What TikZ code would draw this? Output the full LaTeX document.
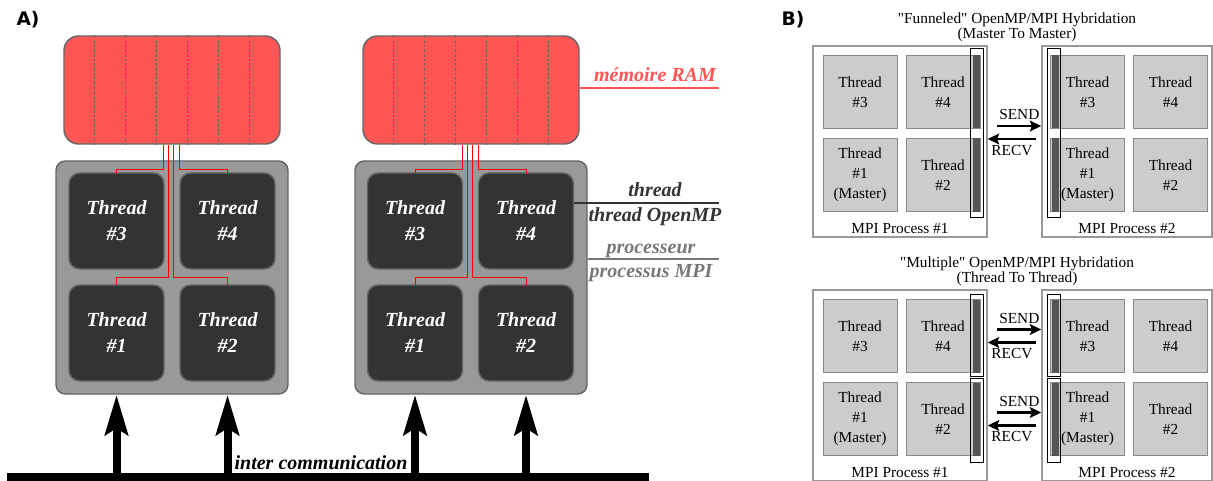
\documentclass[tikz,border=0pt]{standalone}
\usepackage{fontspec}
\setmainfont{Liberation Serif}
\newfontfamily\labelfont{DejaVu Sans}
\newfontfamily\plainserif[Ligatures=TeXOff]{Liberation Serif}
\usetikzlibrary{positioning,calc,arrows.meta}

\definecolor{ramred}{HTML}{FF5555}
\definecolor{cpugray}{HTML}{999999}
\definecolor{coredark}{HTML}{333333}
\definecolor{edgegray}{HTML}{666666}
\definecolor{tagdark}{HTML}{333333}
\definecolor{taggray}{HTML}{777777}
\definecolor{boxgray}{HTML}{CCCCCC}
\definecolor{workedge}{HTML}{888888}
\definecolor{bargray}{HTML}{555555}

\tikzstyle{panel} = [font=\labelfont\bfseries\fontsize{14}{16}\selectfont]
\tikzstyle{ram} = [draw=edgegray,
                   line width=1.1pt,
                   fill=ramred,
                   rounded corners=11pt,
                   minimum width=162pt,
                   minimum height=81pt]
\tikzstyle{divider} = [draw=edgegray, line width=0.6pt, dash pattern=on 2pt off 1.5pt]
\tikzstyle{cpu} = [draw=edgegray,
                   line width=1.1pt,
                   fill=cpugray,
                   rounded corners=7pt,
                   minimum width=174pt,
                   minimum height=174.75pt]
\tikzstyle{core} = [draw=edgegray,
                    line width=1.1pt,
                    fill=coredark,
                    rounded corners=8pt,
                    minimum width=71.25pt,
                    minimum height=72pt,
                    outer sep=0pt,
                    text=white,
                    align=center,
                    font=\bfseries\itshape\fontsize{15}{19.5}\selectfont]
\tikzstyle{wire} = [draw=red, line width=0.75pt]
\tikzstyle{tag} = [font=\bfseries\itshape\fontsize{15}{18}\selectfont, anchor=base, inner sep=0pt]
\tikzstyle{tagline} = [line width=1pt]
\tikzstyle{bus} = [fill=black, minimum width=481.5pt, minimum height=6.75pt, inner sep=0pt]
\tikzstyle{bigarrow} = [line width=6pt, -{Stealth[length=30pt, width=17pt, inset=5pt]}]

\tikzstyle{mpi} = [draw=cpugray, line width=1.1pt, minimum width=130.5pt, minimum height=143.25pt, inner sep=0pt]
\tikzstyle{worker} = [draw=workedge,
                      line width=0.6pt,
                      fill=boxgray,
                      minimum width=55.5pt,
                      minimum height=54.75pt,
                      inner sep=0pt,
                      outer sep=0pt,
                      align=center,
                      font=\plainserif\fontsize{11.5}{14.8}\selectfont]
\tikzstyle{slot} = [fill=bargray, minimum width=5.25pt, minimum height=54.75pt, inner sep=0pt]
\tikzstyle{slotbox} = [draw=black, line width=0.6pt, minimum width=9.75pt, inner sep=0pt]
\tikzstyle{msg} = [line width=2.2pt, -{Stealth[length=8.5pt, width=8pt, inset=1.5pt]}]
\tikzstyle{caption} = [font=\plainserif\fontsize{11.5}{11.25}\selectfont, align=center]
\tikzstyle{msgtext} = [font=\plainserif\fontsize{11.5}{14}\selectfont]

\begin{document}
\begin{tikzpicture}[x=0.75pt, y=-0.75pt]
    \useasboundingbox (0,0) rectangle (1213,481);

    %%%%%%%%%%%
    % PANEL A %
    %%%%%%%%%%%
    \node[panel] (labelA) at (28,20) {A)};

    \node[ram] (ramA) at (172,90) {};
    \node[ram] (ramB) at (471,90) {};
    \foreach \k in {1,...,6} {
        \draw[divider] ($(ramA.north west)!\k/7!(ramA.north east)$) -- ($(ramA.south west)!\k/7!(ramA.south east)$);
        \draw[divider] ($(ramB.north west)!\k/7!(ramB.north east)$) -- ($(ramB.south west)!\k/7!(ramB.south east)$);
    }

    \node[cpu] (cpuA) at (172,277.5) {};
    \node[cpu] (cpuB) at (471,277.5) {};

    \node[core] (t3A) at (116.5,221) {Thread\\\#3};
    \node[core, right=12pt of t3A] (t4A) {Thread\\\#4};
    \node[core, below=12pt of t3A] (t1A) {Thread\\\#1};
    \node[core, right=12pt of t1A] (t2A) {Thread\\\#2};

    \node[core] (t3B) at (415,221) {Thread\\\#3};
    \node[core, right=12pt of t3B] (t4B) {Thread\\\#4};
    \node[core, below=12pt of t3B] (t1B) {Thread\\\#1};
    \node[core, right=12pt of t1B] (t2B) {Thread\\\#2};

    % memory wires
    \foreach \dx/\dy/\tgt in {-8.5/25/t3A, 7.5/25/t4A, -3.5/133/t1A, 1.5/133/t2A}
        \draw[wire] ($(ramA.south)+(\dx,0)$) -- ++(0,\dy) -| (\tgt.north);
    \foreach \dx/\dy/\tgt in {-8.5/25/t3B, 7.5/25/t4B, -3.5/133/t1B, 1.5/133/t2B}
        \draw[wire] ($(ramB.south)+(\dx,0)$) -- ++(0,\dy) -| (\tgt.north);

    % legend
    \coordinate (ramEnd) at (719,88);
    \coordinate (threadEnd) at (719,203);
    \coordinate (cpuEnd) at (719,259);
    \draw[tagline, draw=ramred] (ramB.east |- ramEnd) -- (ramEnd);
    \draw[tagline, draw=tagdark] (t4B.east |- threadEnd) -- (threadEnd);
    \draw[tagline, draw=taggray] (cpuB.east |- cpuEnd) -- (cpuEnd);
    \node[tag, text=ramred] (ramtag) at (655,82) {mémoire RAM};
    \node[tag, text=tagdark] (threadtag) at (655,196) {thread};
    \node[tag, text=tagdark] (omptag) at (655,221) {thread OpenMP};
    \node[tag, text=taggray] (cputag) at (651,253) {processeur};
    \node[tag, text=taggray] (mpitag) at (651,277) {processus MPI};

    % interconnect
    \node[bus] (bus) at (328,477.5) {};
    \node[tag] (comm) at (321,469) {inter communication};
    \foreach \t in {t1A,t2A,t1B,t2B}
        \draw[bigarrow] (\t |- bus.north) -- (\t |- cpuA.south);

    %%%%%%%%%%%%%%%%%%%%%%
    % PANEL B: FUNNELED %
    %%%%%%%%%%%%%%%%%%%%%%
    \node[panel] (labelB) at (793,20) {B)};
    \node[caption] (titleF) at (1017,27.5) {"Funneled" OpenMP/MPI Hybridation\\(Master To Master)};

    \node[mpi] (mpi1F) at (900,141.5) {};
    \node[mpi, minimum width=127.5pt] (mpi2F) at (1127,141.5) {};
    \node[caption, anchor=base] (proc1F) at ($(mpi1F.south)+(0,-4.5)$) {MPI Process \#1};
    \node[caption, anchor=base] (proc2F) at ($(mpi2F.south)+(0,-4.5)$) {MPI Process \#2};

    \node[worker] (t3Fl) at (860,92) {Thread\\\#3};
    \node[worker, right=6.75pt of t3Fl] (t4Fl) {Thread\\\#4};
    \node[worker, below=7.5pt of t3Fl] (t1Fl) {Thread\\\#1\\(Master)};
    \node[worker, right=6.75pt of t1Fl] (t2Fl) {Thread\\\#2};
    \node[worker] (t3Fr) at (1087.5,92) {Thread\\\#3};
    \node[worker, right=6.75pt of t3Fr] (t4Fr) {Thread\\\#4};
    \node[worker, below=7.5pt of t3Fr] (t1Fr) {Thread\\\#1\\(Master)};
    \node[worker, right=6.75pt of t1Fr] (t2Fr) {Thread\\\#2};

    \node[slot, anchor=east] (s4F) at (t4Fl.east) {};
    \node[slot, anchor=east] (s2F) at (t2Fl.east) {};
    \node[slot, anchor=west] (s3F) at ($(t3Fr.west)+(1.5,0)$) {};
    \node[slot, anchor=west] (s1F) at ($(t1Fr.west)+(1.5,0)$) {};
    \node[slotbox, minimum height=126.75pt] (boxFl) at (976.5,132.5) {};
    \node[slotbox, minimum height=126.75pt] (boxFr) at (1054,132.5) {};

    \draw[msg] ($(boxFl.east)+(14,-6.5)$) -- ($(mpi2F.west |- boxFl.east)+(0,-6.5)$) node[msgtext, midway, above] {SEND};
    \draw[msg] ($(boxFr.west)+(-11,6.5)$) -- ($(mpi1F.east |- boxFr.west)+(0,6.5)$) node[msgtext, midway, below] {RECV};

    %%%%%%%%%%%%%%%%%%%%%%
    % PANEL B: MULTIPLE %
    %%%%%%%%%%%%%%%%%%%%%%
    \begin{scope}[shift={(0,244)}]
    \node[caption] (titleM) at (1017,27.5) {"Multiple" OpenMP/MPI Hybridation\\(Thread To Thread)};

    \node[mpi] (mpi1M) at (900,141.5) {};
    \node[mpi, minimum width=127.5pt] (mpi2M) at (1127,141.5) {};
    \node[caption, anchor=base] (proc1M) at ($(mpi1M.south)+(0,-4.5)$) {MPI Process \#1};
    \node[caption, anchor=base] (proc2M) at ($(mpi2M.south)+(0,-4.5)$) {MPI Process \#2};

    \node[worker] (t3Ml) at (860,92) {Thread\\\#3};
    \node[worker, right=6.75pt of t3Ml] (t4Ml) {Thread\\\#4};
    \node[worker, below=7.5pt of t3Ml] (t1Ml) {Thread\\\#1\\(Master)};
    \node[worker, right=6.75pt of t1Ml] (t2Ml) {Thread\\\#2};
    \node[worker] (t3Mr) at (1087.5,92) {Thread\\\#3};
    \node[worker, right=6.75pt of t3Mr] (t4Mr) {Thread\\\#4};
    \node[worker, below=7.5pt of t3Mr] (t1Mr) {Thread\\\#1\\(Master)};
    \node[worker, right=6.75pt of t1Mr] (t2Mr) {Thread\\\#2};

    \node[slot, anchor=east] (s4M) at (t4Ml.east) {};
    \node[slot, anchor=east] (s2M) at (t2Ml.east) {};
    \node[slot, anchor=west] (s3M) at ($(t3Mr.west)+(1.5,0)$) {};
    \node[slot, anchor=west] (s1M) at ($(t1Mr.west)+(1.5,0)$) {};
    \node[slotbox, minimum height=61.5pt] (boxMl1) at (976.5,91) {};
    \node[slotbox, minimum height=63pt] (boxMl2) at (976.5,176) {};
    \node[slotbox, minimum height=61.5pt] (boxMr1) at (1054,91) {};
    \node[slotbox, minimum height=63pt] (boxMr2) at (1054,176) {};

    \draw[msg] ($(boxMl1.east |- t4Ml.east)+(14,-6.5)$) -- ($(mpi2M.west |- t4Ml.east)+(0,-6.5)$) node[msgtext, midway, above] {SEND};
    \draw[msg] ($(boxMr1.west |- t3Mr.west)+(-11,6.5)$) -- ($(mpi1M.east |- t3Mr.west)+(0,6.5)$) node[msgtext, midway, below] {RECV};
    \draw[msg] ($(boxMl2.east |- t2Ml.east)+(14,-6.5)$) -- ($(mpi2M.west |- t2Ml.east)+(0,-6.5)$) node[msgtext, midway, above] {SEND};
    \draw[msg] ($(boxMr2.west |- t1Mr.west)+(-11,6.5)$) -- ($(mpi1M.east |- t1Mr.west)+(0,6.5)$) node[msgtext, midway, below] {RECV};
    \end{scope}
\end{tikzpicture}
\end{document}
